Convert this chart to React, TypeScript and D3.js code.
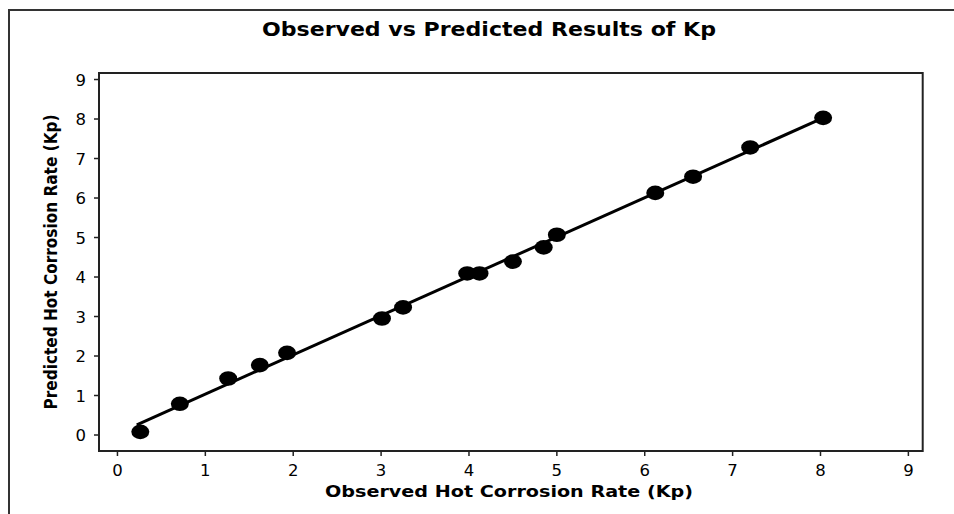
import React from "react";
import * as d3 from "d3";

const observed = [0.26, 0.71, 1.26, 1.62, 1.93, 3.01, 3.25, 3.98, 4.12, 4.5, 4.85, 5.0, 6.12, 6.55, 7.2, 8.03];
const predicted = [0.08, 0.79, 1.43, 1.77, 2.08, 2.95, 3.23, 4.09, 4.09, 4.39, 4.75, 5.07, 6.13, 6.54, 7.28, 8.03];
const xTicks = [0, 1, 2, 3, 4, 5, 6, 7, 8, 9];
const yTicks = [0, 1, 2, 3, 4, 5, 6, 7, 8, 9];
const title = "Observed vs Predicted Results of Kp";
const xLabel = "Observed Hot Corrosion Rate (Kp)";
const yLabel = "Predicted Hot Corrosion Rate (Kp)";

const W = 954, H = 514;
const L = 99, R = 922.7, T = 73, B = 451;
const FONT = "DejaVu Sans, Verdana, sans-serif";

export default function App() {
  const x = d3.scaleLinear().domain([-0.21, 9.163]).range([L, R]);
  const y = d3.scaleLinear().domain([-0.405, 9.165]).range([B, T]);

  // least squares fit
  const mx = d3.mean(observed)!, my = d3.mean(predicted)!;
  let sxy = 0, sxx = 0;
  observed.forEach((o, i) => { sxy += (o - mx) * (predicted[i] - my); sxx += (o - mx) ** 2; });
  const slope = sxy / sxx, icpt = my - slope * mx;
  const [xmin, xmax] = d3.extent(observed) as [number, number];
  const fit = [xmin - 0.04, xmax].map((v) => [v, icpt + slope * v] as [number, number]);
  const lineGen = d3.line<[number, number]>().x((d) => x(d[0])).y((d) => y(d[1]));

  return (
    <svg width={W} height={H} style={{ position: "absolute", left: 0, top: 0, background: "#fff" }}>
      <rect x={0} y={0} width={W} height={H} fill="#fff" />
      {/* outer frame */}
      <path d={`M9,${H} L9,10 L${W},10`} fill="none" stroke="#333" strokeWidth={2} />
      <text x={489} y={36} textAnchor="middle" fontFamily={FONT} fontWeight="bold" fontSize={20}
        textLength={454} lengthAdjust="spacingAndGlyphs">{title}</text>
      {/* plot box */}
      <rect x={L} y={T} width={R - L} height={B - T} fill="none" stroke="#222" strokeWidth={2} />
      {xTicks.map((t) => (
        <g key={"x" + t}>
          <line x1={x(t)} x2={x(t)} y1={B} y2={B + 5} stroke="#222" strokeWidth={1.5} />
          <text x={x(t)} y={475.5} textAnchor="middle" fontFamily={FONT} fontSize={16.5}>{t}</text>
        </g>
      ))}
      {yTicks.map((t) => (
        <g key={"y" + t}>
          <line x1={L} x2={L - 5} y1={y(t)} y2={y(t)} stroke="#222" strokeWidth={1.5} />
          <text x={86} y={y(t) + 6} textAnchor="end" fontFamily={FONT} fontSize={16.5}>{t}</text>
        </g>
      ))}
      <text x={509} y={497} textAnchor="middle" fontFamily={FONT} fontWeight="bold" fontSize={16.5}
        textLength={368} lengthAdjust="spacingAndGlyphs">{xLabel}</text>
      <text transform={`translate(57,${(T + B) / 2}) rotate(-90)`} textAnchor="middle" fontFamily={FONT}
        fontWeight="bold" fontSize={18} textLength={295} lengthAdjust="spacingAndGlyphs">{yLabel}</text>
      <path d={lineGen(fit) || ""} fill="none" stroke="#000" strokeWidth={3} />
      {observed.map((o, i) => (
        <ellipse key={i} cx={x(o)} cy={y(predicted[i])} rx={9} ry={7.3} fill="#000" />
      ))}
    </svg>
  );
}
